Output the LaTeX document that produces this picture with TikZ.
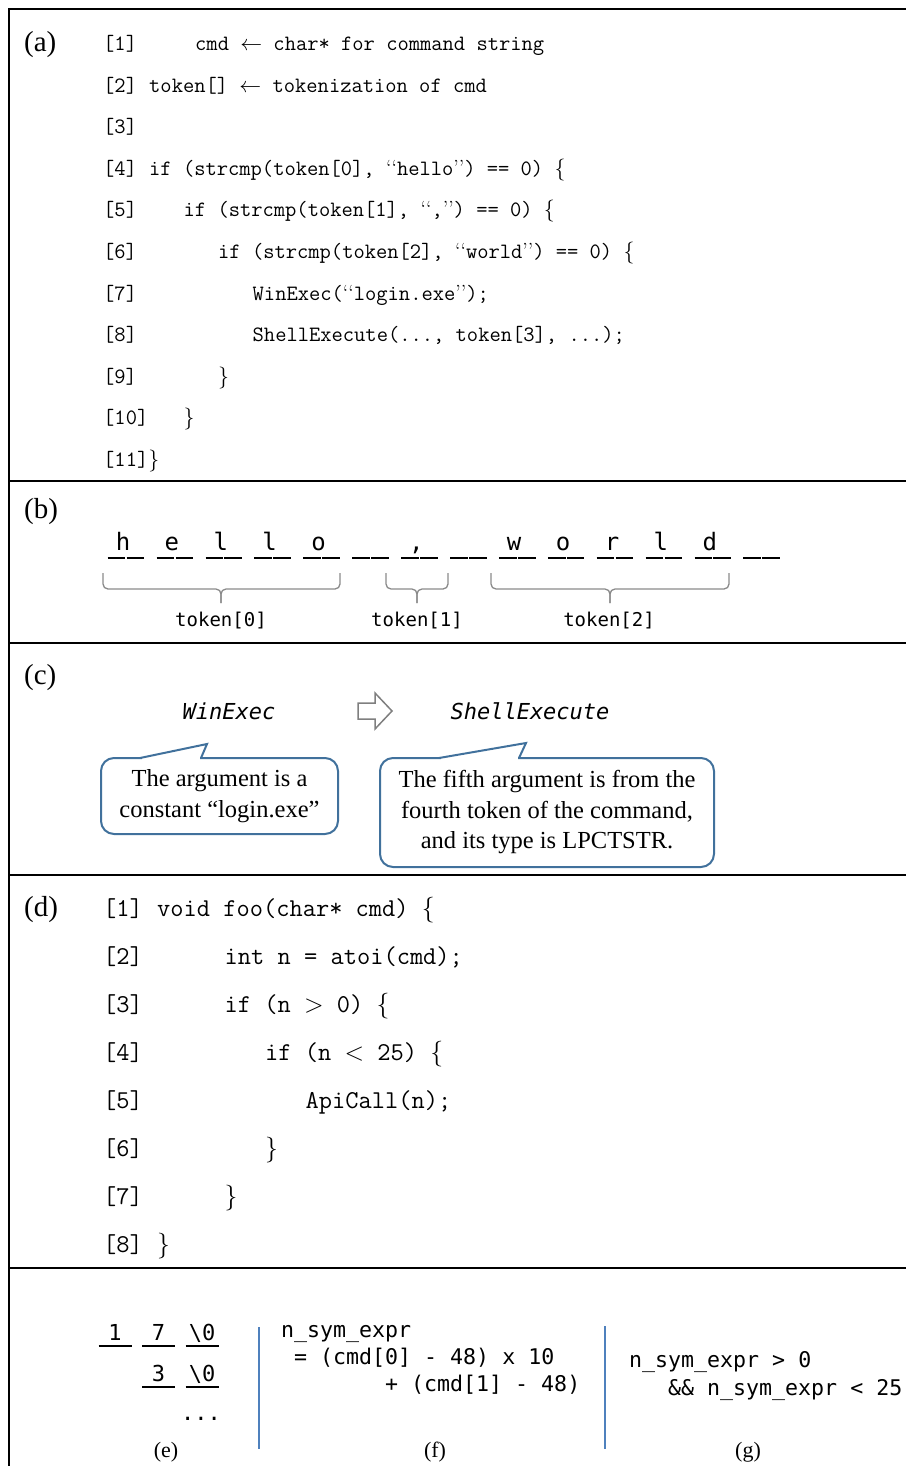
\documentclass[tikz,border=0pt]{standalone}
\usepackage{fix-cm}
\usepackage{fontspec}
\newfontfamily\serifTNR{Liberation Serif}
\newfontfamily\monoDV{DejaVu Sans Mono}
\definecolor{calloutblue}{HTML}{41719C}
\definecolor{dividerblue}{HTML}{4F81BD}
\definecolor{bracegray}{HTML}{8A8A8A}
\definecolor{arrowgray}{HTML}{7F7F7F}
\newcommand\codeopen{{\rmfamily ‘‘}}
\newcommand\codeclose{{\rmfamily ’’}}
\tikzset{
  frame/.style={line width=2.4pt, black},
  lbl/.style={font=\serifTNR\fontsize{29}{33}\selectfont, inner sep=0pt, anchor=west},
  sublbl/.style={font=\serifTNR\fontsize{22}{26}\selectfont, inner sep=0pt},
  codeA/.style={font=\ttfamily\addfontfeatures{FakeBold=0.8}\fontsize{21.9}{26}\selectfont, inner sep=0pt, anchor=base west},
  codeD/.style={font=\ttfamily\addfontfeatures{FakeBold=0.8}\fontsize{25.7}{30}\selectfont, inner sep=0pt, anchor=base west},
  cell/.style={font=\monoDV\fontsize{24}{28}\selectfont, inner sep=0pt, anchor=base},
  slot/.style={line width=2pt, black},
  tok/.style={font=\monoDV\fontsize{19}{22}\selectfont, inner sep=0pt, anchor=base},
  brace/.style={draw=bracegray, line width=1.3pt, rounded corners=5pt},
  api/.style={font=\monoDV\itshape\fontsize{22}{26}\selectfont, inner sep=0pt},
  flowarrow/.style={draw=arrowgray, line width=1.5pt, fill=white, line join=miter},
  callout/.style={draw=calloutblue, line width=2pt, rounded corners=13pt, fill=white,
    align=center, inner sep=0pt, font=\serifTNR\fontsize{24.5}{30.5}\selectfont},
  tail/.style={draw=calloutblue, line width=2pt, line join=miter},
  digit/.style={font=\monoDV\fontsize{22}{26}\selectfont, inner sep=0pt, anchor=base},
  expr/.style={font=\monoDV\fontsize{21.6}{27}\selectfont, inner sep=0pt, anchor=base west},
  divider/.style={draw=dividerblue, line width=1.5pt},
}
\begin{document}
\begin{tikzpicture}[x=1pt,y=-1pt]
\useasboundingbox (0,0) rectangle (906,1466);

% outer frame and panel separators
\draw[frame] (9,1466) -- (9,9) -- (906,9);
\foreach \yy in {481,643,875,1268} \draw[frame] (9,\yy) -- (906,\yy);

% ---------- (a) pseudo code ----------
\node[lbl] (la) at (24,45) {(a)};
\node[codeA] (a1n) at (103,50.5) {[1]};
\node[codeA] (a1c) at (195,50.5) {cmd $\leftarrow$ char* for command string};
\node[codeA] (a2n) at (103,92.1) {[2]};
\node[codeA] (a2c) at (149,92.1) {token[] $\leftarrow$ tokenization of cmd};
\node[codeA] (a3n) at (103,133.7) {[3]};
\node[codeA] (a4n) at (103,175.3) {[4]};
\node[codeA] (a4c) at (149,175.3) {if (strcmp(token[0], \codeopen hello\codeclose) == 0) $\{$};
\node[codeA] (a5n) at (103,216.9) {[5]};
\node[codeA] (a5c) at (183.5,216.9) {if (strcmp(token[1], \codeopen,\codeclose) == 0) $\{$};
\node[codeA] (a6n) at (103,258.5) {[6]};
\node[codeA] (a6c) at (218,258.5) {if (strcmp(token[2], \codeopen world\codeclose) == 0) $\{$};
\node[codeA] (a7n) at (103,300.1) {[7]};
\node[codeA] (a7c) at (252.5,300.1) {WinExec(\codeopen login.exe\codeclose);};
\node[codeA] (a8n) at (103,341.7) {[8]};
\node[codeA] (a8c) at (252.5,341.7) {ShellExecute(..., token[3], ...);};
\node[codeA] (a9n) at (103,383.3) {[9]};
\node[codeA] (a9c) at (218,383.3) {$\}$};
\node[codeA] (a10n) at (103,424.9) {[10]};
\node[codeA] (a10c) at (183.5,424.9) {$\}$};
\node[codeA] (a11n) at (103,466.5) {[11]$\}$};

% ---------- (b) tokenization ----------
\node[lbl] (lb) at (24,512) {(b)};
\foreach \c [count=\k from 0] in {h,e,l,l,o,{},{,},{},w,o,r,l,d,{}} {
  \pgfmathsetmacro\cx{126+48.9*\k}
  \node[cell] (ch\k) at (\cx-3,550) {\c};
  \draw[slot] (\cx-18.3,557.5) -- (\cx-0.6,557.5);
  \draw[slot] (\cx+0.6,557.5) -- (\cx+18.3,557.5);
}
\draw[brace] (103,573) |- (221,589) -- (221,603);
\draw[brace] (340,573) |- (221,589) -- (221,603);
\draw[brace] (386,573) |- (417,589) -- (417,603);
\draw[brace] (448,573) |- (417,589) -- (417,603);
\draw[brace] (491,573) |- (610,589) -- (610,603);
\draw[brace] (729,573) |- (610,589) -- (610,603);
\node[tok] (t0) at (221,626) {token[0]};
\node[tok] (t1) at (417,626) {token[1]};
\node[tok] (t2) at (609,626) {token[2]};

% ---------- (c) API call sequence ----------
\node[lbl] (lc) at (24,678) {(c)};
\node[api] (winexec) at (229,711) {WinExec};
\node[api] (shellexec) at (530,711) {ShellExecute};
\draw[flowarrow] (358,703) -- (375,703) -- (375,693) -- (392,711) -- (375,729) -- (375,719) -- (358,719) -- cycle;

\node[callout, minimum width=237pt, minimum height=76pt] (note1) at (219.5,796)
  {The argument is a\\constant “login.exe”};
\fill[white] (141.5,756.6) rectangle (200,759.6);
\draw[tail] (140,758) -- (207,744) -- (201,758);

\node[callout, minimum width=334pt, minimum height=109pt] (note2) at (547,812.5)
  {The fifth argument is from the\\fourth token of the command,\\and its type is LPCTSTR.};
\fill[white] (440.5,756.6) rectangle (518,759.6);
\draw[tail] (439,758) -- (526,743) -- (519,758);

% ---------- (d) numeric example ----------
\node[lbl] (ld) at (24,910) {(d)};
\node[codeD] (d1n) at (103,916.4) {[1]};
\node[codeD] (d1c) at (157,916.4) {void foo(char* cmd) $\{$};
\node[codeD] (d2n) at (103,964.4) {[2]};
\node[codeD] (d2c) at (224.5,964.4) {int n = atoi(cmd);};
\node[codeD] (d3n) at (103,1012.4) {[3]};
\node[codeD] (d3c) at (224.5,1012.4) {if (n $>$ 0) $\{$};
\node[codeD] (d4n) at (103,1060.4) {[4]};
\node[codeD] (d4c) at (265,1060.4) {if (n $<$ 25) $\{$};
\node[codeD] (d5n) at (103,1108.4) {[5]};
\node[codeD] (d5c) at (305.5,1108.4) {ApiCall(n);};
\node[codeD] (d6n) at (103,1156.4) {[6]};
\node[codeD] (d6c) at (265,1156.4) {$\}$};
\node[codeD] (d7n) at (103,1204.4) {[7]};
\node[codeD] (d7c) at (224.5,1204.4) {$\}$};
\node[codeD] (d8n) at (103,1252.4) {[8]};
\node[codeD] (d8c) at (157,1252.4) {$\}$};

% ---------- (e) string buffers ----------
\node[digit] (e11) at (115,1340) {1};
\node[digit] (e12) at (158.5,1340) {7};
\node[digit] (e13) at (202,1340) {\textbackslash 0};
\foreach \cx in {115,158.5,202} \draw[slot] (\cx-16.5,1346) -- (\cx+16.5,1346);
\node[digit] (e22) at (158.5,1381) {3};
\node[digit] (e23) at (202,1381) {\textbackslash 0};
\foreach \cx in {158.5,202} \draw[slot] (\cx-16.5,1387) -- (\cx+16.5,1387);
\node[digit] (edots) at (201,1420) {...};

\draw[divider] (259,1327) -- (259,1449);
\draw[divider] (605,1326) -- (605,1449);

% ---------- (f) symbolic expression ----------
\node[expr] (f1) at (281,1337) {n\_sym\_expr};
\node[expr] (f2) at (294,1364) {= (cmd[0] - 48) x 10};
\node[expr] (f3) at (385,1391) {+ (cmd[1] - 48)};

% ---------- (g) path constraint ----------
\node[expr] (g1) at (629,1367) {n\_sym\_expr > 0};
\node[expr] (g2) at (668,1395) {\&\& n\_sym\_expr < 25};

\node[sublbl] (le) at (166,1452) {(e)};
\node[sublbl] (lf) at (435,1452) {(f)};
\node[sublbl] (lg) at (748,1452) {(g)};
\end{tikzpicture}
\end{document}
